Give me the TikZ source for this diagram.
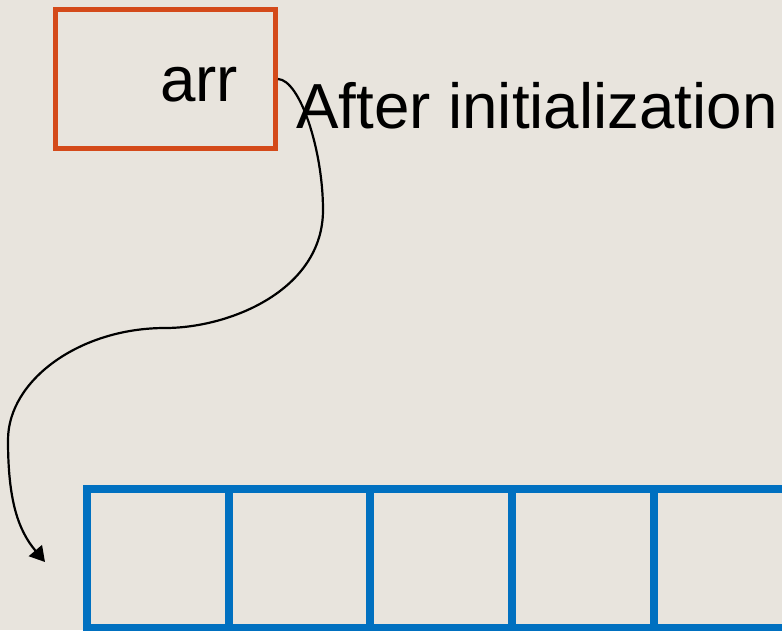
\documentclass[tikz,border=0pt]{standalone}
\usepackage{fontspec}
\setmainfont{Liberation Sans}
\usetikzlibrary{arrows.meta}
\definecolor{bg}{RGB}{232,228,221}
\definecolor{boxred}{RGB}{212,74,26}
\definecolor{arrblue}{RGB}{0,112,192}
\tikzset{
  varbox/.style={draw=boxred, line width=5pt, minimum width=220pt, minimum height=139pt, inner sep=0pt},
  cellbox/.style={draw=arrblue, line width=8pt, minimum width=141.7pt, minimum height=139pt, inner sep=0pt},
  bigtext/.style={font=\fontsize{63.7}{75}\selectfont, inner sep=0pt},
  link/.style={line width=2.2pt, -{Triangle[length=15pt,width=17pt]}}
}
\begin{document}
\begin{tikzpicture}[x=1pt,y=-1pt]
\useasboundingbox (0,0) rectangle (782,630);
\fill[bg] (0,0) rectangle (782,630);
\clip (0,0) rectangle (782,630);
\node[varbox] (arrbox) at (165.5,79) {};
\node[bigtext, anchor=base west] (arrlabel) at (160,101) {arr};
\node[bigtext, anchor=base west] (caption) at (296,128) {After initialization};
\foreach \i in {0,...,4} {
  \node[cellbox] (cell\i) at ({87+141.7*\i+70.85},558.5) {};
}
\coordinate (tip) at (45,562);
\draw[link] (arrbox.east) .. controls (300,80) and (323,150) .. (323,210)
  .. controls (323,290) and (230,328) .. (165,328)
  .. controls (80,328) and (8,380) .. (8,440)
  .. controls (8,500) and (18,530) .. (tip);
\end{tikzpicture}
\end{document}
